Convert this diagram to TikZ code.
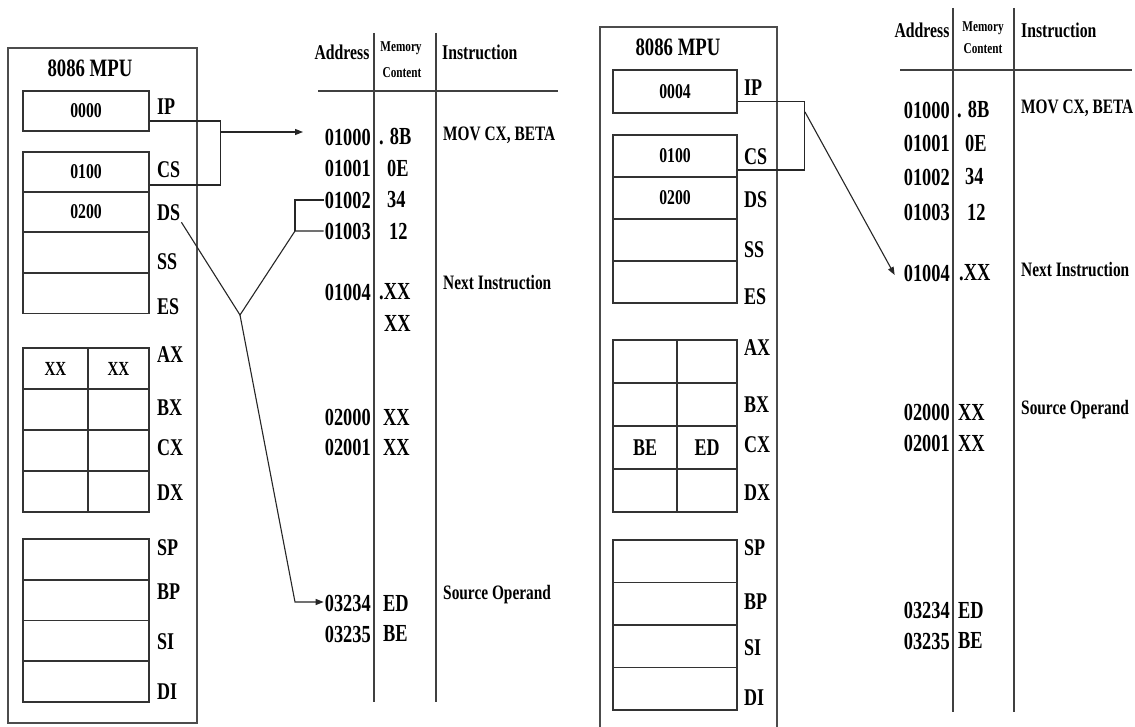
\documentclass[tikz,border=0pt]{standalone}
\usepackage{fontspec}
\setmainfont{Liberation Serif}[FakeStretch=0.75]
\usetikzlibrary{arrows.meta,calc}

\newcommand\mpufont{\bfseries\fontsize{25}{25}\selectfont}
\newcommand\regfont{\bfseries\fontsize{21}{21}\selectfont}
\newcommand\lblfont{\bfseries\fontsize{24}{24}\selectfont}
\newcommand\memfont{\bfseries\fontsize{24.5}{24.5}\selectfont}
\newcommand\hdrfont{\bfseries\fontsize{21}{21}\selectfont}
\newcommand\smhdrfont{\bfseries\fontsize{15}{15}\selectfont}
\newcommand\insfont{\bfseries\fontsize{20.5}{20.5}\selectfont}

\begin{document}
\begin{tikzpicture}[x=1pt, y=-1pt,
    reg/.style={draw=black!80, line width=1.8pt, minimum width=126pt, minimum height=40pt, inner sep=0pt, font=\regfont},
    frame/.style={draw=black!70, line width=1.6pt, inner sep=0pt},
    lbl/.style={anchor=west, inner sep=1pt, font=\lblfont},
    addr/.style={anchor=east, inner sep=1pt, font=\memfont},
    cont/.style={anchor=west, inner sep=1pt, font=\memfont},
    ins/.style={anchor=west, inner sep=1pt, font=\insfont},
    hdr/.style={inner sep=1pt, font=\hdrfont},
    smhdr/.style={inner sep=1pt, font=\smhdrfont},
    rule/.style={draw=black!75, line width=1.6pt},
    wire/.style={draw=black!85, line width=1.1pt},
    arr/.style={wire, -{Triangle[length=8pt, width=6pt]}}
  ]
  \useasboundingbox (0,0) rectangle (1135,727);
  \fill[white] (0,0) rectangle (1135,727);

  % ---------- left: MPU before the fetch
  \node[frame, minimum width=189pt, minimum height=675pt] (mpuA) at (102.5,385.5) {};
  \node[font=\mpufont] (ttlA) at (90,68) {8086 MPU};
  \node[reg] (ipA) at (86,111) {0000};
  \node[reg] (csA) at (86,172) {0100};
  \node[reg] (dsA) at (86,212) {0200};
  \node[reg] (ssA) at (86,252.5) {};
  \node[reg] (esA) at (86,293.5) {};
  \node[reg, minimum width=65pt, minimum height=41pt, font=\fontsize{20}{20}\selectfont\bfseries] (axhA) at (55.5,368.5) {XX};
  \node[reg, minimum width=61pt, minimum height=41pt, font=\fontsize{20}{20}\selectfont\bfseries] (axlA) at (118.5,368.5) {XX};
  \foreach \r/\y in {bx/409.5, cx/450.5, dx/491.5} {
    \node[reg, minimum width=65pt, minimum height=41pt] (\r hA) at (55.5,\y) {};
    \node[reg, minimum width=61pt, minimum height=41pt] (\r lA) at (118.5,\y) {};
  }
  \foreach \r/\y in {sp/559.4, bp/600.1, si/640.9, di/681.6}
    \node[reg, minimum height=40.75pt] (\r A) at (86,\y) {};
  \foreach \t/\y in {IP/107, CS/170, DS/213, SS/262, ES/307, AX/355, BX/408, CX/448, DX/493, SP/548, BP/592, SI/642, DI/692}
    \node[lbl] (lA\t) at (156,\y) {\t};

  % memory table (left)
  \draw[rule] (374,33) -- (374,702);
  \draw[rule] (436,33) -- (436,702);
  \draw[rule] (318,91) -- (558,91);
  \node[hdr] (hadA) at (342,52) {Address};
  \node[smhdr] (hmeA) at (401,48) {Memory};
  \node[smhdr] (hcoA) at (402,73) {Content};
  \node[hdr, anchor=west] (hinA) at (441,52) {Instruction};
  \foreach \a/\c/\cx/\y in {01000/{. 8B}/378/137, 01001/0E/386/168, 01002/34/386/200, 01003/12/388/231,
      01004/.XX/378/292, 02000/XX/382/417, 02001/XX/382/447, 03234/ED/382/603, 03235/BE/382/634} {
    \node[addr] (mA\a) at (372,\y) {\a};
    \node[cont] (cA\a) at (\cx,\y) {\c};
  }
  \node[cont] (cAnext) at (383,323) {XX};
  \node[ins] (iAmov) at (442,135) {MOV CX, BETA};
  \node[ins] (iAnext) at (442,283) {Next Instruction};
  \node[ins] (iAsrc) at (442,595) {Source Operand};

  % connectors (left)
  \coordinate (jA) at (220,132);
  \coordinate (tipA) at (303,132);
  \coordinate (forkA) at (240,315);
  \coordinate (brA) at (295,231);
  \coordinate (kA) at (295,602);
  \draw[wire] ($(ipA.east)+(0,10)$) -| ($(csA.east)+(71,13)$) -- ($(csA.east)+(0,13)$);
  \draw[arr] (jA) -- (tipA);
  \draw[wire] (lADS.south east) -- (forkA) -- (brA) -- (brA -| mA01003.west);
  \draw[wire] (brA) |- (mA01002.west);
  \draw[arr] (forkA) -- (kA) -- (kA -| mA03234.west);

  % ---------- right: MPU after the fetch
  \node[frame, minimum width=177pt, minimum height=740pt] (mpuB) at (688.5,397) {};
  \node[font=\mpufont] (ttlB) at (678,47) {8086 MPU};
  \node[reg, minimum width=124pt, minimum height=43pt] (ipB) at (675,91.5) {0004};
  \node[reg, minimum width=124pt, minimum height=42pt] (csB) at (675,156) {0100};
  \node[reg, minimum width=124pt, minimum height=42pt] (dsB) at (675,198) {0200};
  \node[reg, minimum width=124pt, minimum height=42pt] (ssB) at (675,240) {};
  \node[reg, minimum width=124pt, minimum height=42pt] (esB) at (675,282) {};
  \foreach \r/\y in {ax/361.5, bx/404.5, dx/490.5} {
    \node[reg, minimum width=64pt, minimum height=43pt] (\r hB) at (645,\y) {};
    \node[reg, minimum width=60pt, minimum height=43pt] (\r lB) at (707,\y) {};
  }
  \node[reg, minimum width=64pt, minimum height=43pt, font=\lblfont] (cxhB) at (645,447.5) {BE};
  \node[reg, minimum width=60pt, minimum height=43pt, font=\lblfont] (cxlB) at (707,447.5) {ED};
  \foreach \r/\y in {sp/561.25, bp/603.75, si/646.25, di/688.75}
    \node[reg, minimum width=124pt, minimum height=42.5pt] (\r B) at (675,\y) {};
  \foreach \t/\y in {IP/88, CS/157, DS/200, SS/250, ES/297, AX/348, BX/405, CX/445, DX/493, SP/548, BP/602, SI/648, DI/698}
    \node[lbl] (lB\t) at (743,\y) {\t};

  % memory table (right)
  \draw[rule] (953,8) -- (953,712);
  \draw[rule] (1014,8) -- (1014,712);
  \draw[rule] (900,70) -- (1132,70);
  \node[hdr] (hadB) at (922,30) {Address};
  \node[smhdr] (hmeB) at (983,28) {Memory};
  \node[smhdr] (hcoB) at (983,49) {Content};
  \node[hdr, anchor=west] (hinB) at (1020,30) {Instruction};
  \foreach \a/\c/\cx/\y in {01000/{. 8B}/956/110, 01001/0E/964/143, 01002/34/964/177, 01003/12/966/212,
      01004/.XX/958/273, 02000/XX/957/412, 02001/XX/957/443, 03234/ED/957/610, 03235/BE/957/641} {
    \node[addr] (mB\a) at (951,\y) {\a};
    \node[cont] (cB\a) at (\cx,\y) {\c};
  }
  \node[ins] (iBmov) at (1020,108) {MOV CX, BETA};
  \node[ins] (iBnext) at (1020,270) {Next Instruction};
  \node[ins] (iBsrc) at (1020,410) {Source Operand};

  % connectors (right)
  \coordinate (jB) at (805,112);
  \draw[wire] ($(ipB.east)+(0,10)$) -| ($(csB.east)+(67,14)$) -- ($(csB.east)+(0,14)$);
  \draw[arr] (jB) -- ($(mB01004.west)+(-8,2)$);
\end{tikzpicture}
\end{document}
